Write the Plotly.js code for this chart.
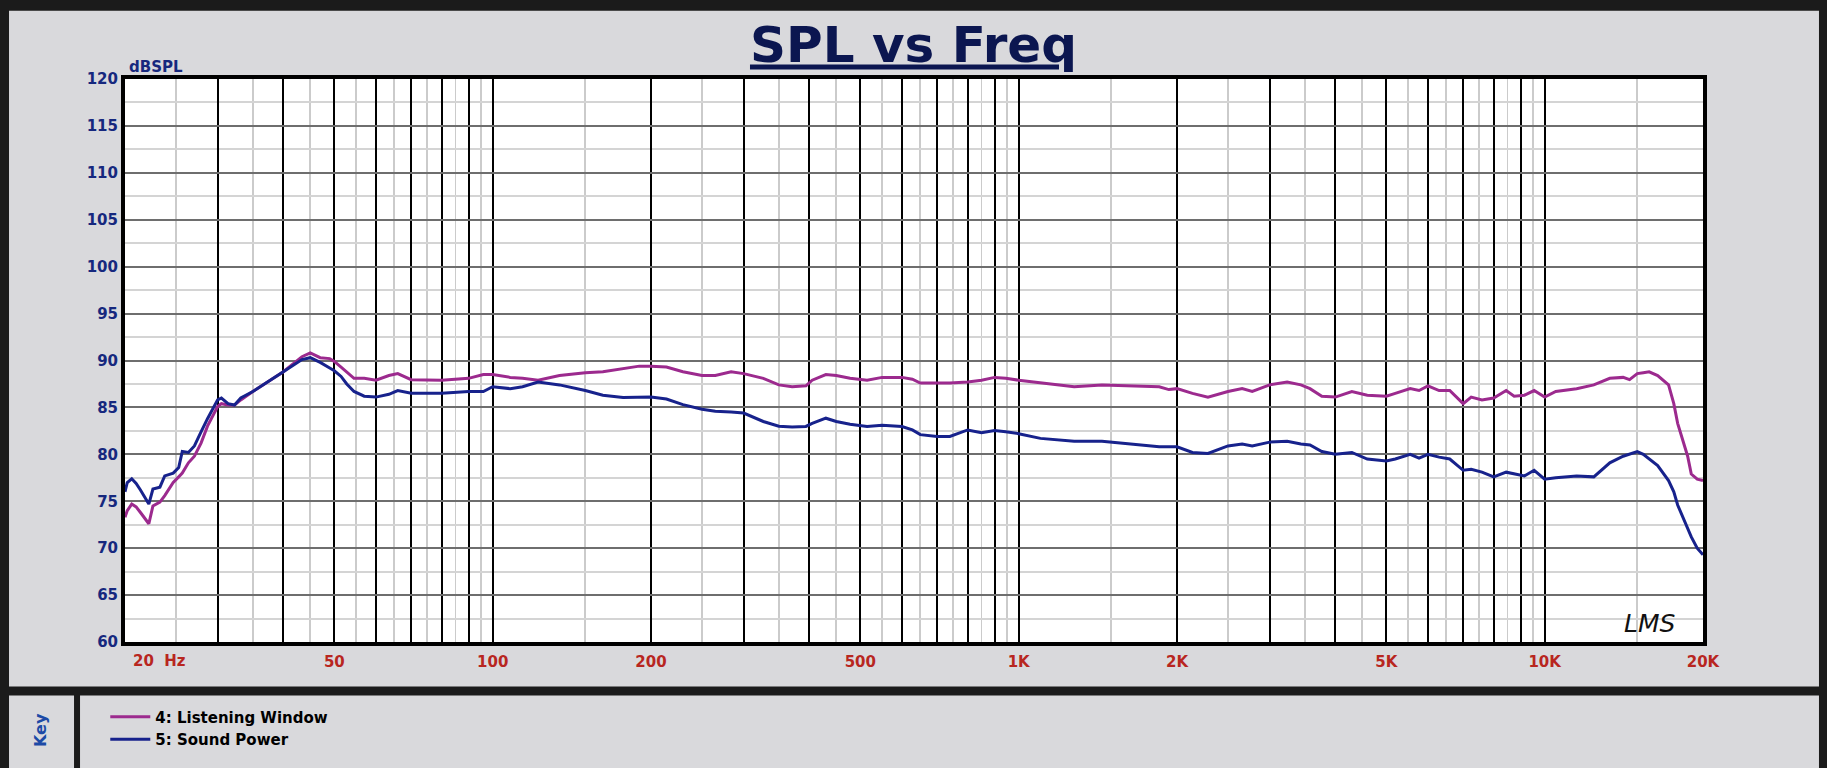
<!DOCTYPE html>
<html>
<head>
<meta charset="utf-8">
<script src="https://cdn.plot.ly/plotly-3.0.1.min.js"></script>
<style>
  html, body { margin: 0; padding: 0; background: #1b1b1b; }
  #myChart { width: 1827px; height: 768px; }
</style>
</head>
<body>
<div id="myChart"></div>
<script>
// frequencies (Hz)
var freq = [20, 20.2, 20.6, 21.0, 21.4, 22.2, 22.6, 23.3, 23.8, 24.7, 25.3, 25.7, 26.4, 27.1, 27.9, 28.7,
  30, 30.5, 31.4, 32.3, 33.2, 35, 40, 43.4, 45, 47, 49, 50, 51.5, 52.8, 54.5, 57, 60, 63.5, 66, 70,
  80, 90, 96, 100, 108, 114, 122, 134, 150, 162, 177, 190, 200, 214, 230, 250, 265, 284, 300, 327,
  350, 371, 394, 405, 430, 450, 478, 515, 550, 600, 628, 650, 700, 740, 800, 850, 900, 945, 1000,
  1100, 1275, 1440, 1670, 1850, 1930, 2000, 2140, 2290, 2500, 2660, 2780, 3000, 3240, 3440, 3580,
  3770, 4000, 4300, 4600, 5000, 5200, 5550, 5770, 6000, 6300, 6600, 7000, 7250, 7600, 8000, 8450,
  8750, 9150, 9550, 10000, 10500, 11500, 12400, 13300, 14100, 14500, 15000, 15400, 15800, 16400,
  17200, 17600, 17900, 18700, 19000, 19500, 20000];

// 4: Listening Window (dB SPL)
var listening = [73.3, 74.0, 74.7, 74.4, 73.8, 72.6, 74.5, 74.9, 75.6, 77.0, 77.6, 78.0, 79.1, 79.8, 81.2, 83.0,
  85.1, 85.4, 85.25, 85.25, 85.8, 86.7, 88.8, 90.4, 90.8, 90.3, 90.2, 89.9, 89.3, 88.8, 88.1, 88.1, 87.9, 88.4, 88.6, 87.96,
  87.9, 88.1, 88.5, 88.5, 88.2, 88.1, 87.9, 88.4, 88.7, 88.8, 89.1, 89.4, 89.4, 89.3, 88.8, 88.4, 88.4, 88.8, 88.6, 88.1,
  87.4, 87.2, 87.3, 87.9, 88.5, 88.4, 88.1, 87.9, 88.2, 88.2, 88.0, 87.6, 87.6, 87.6, 87.7, 87.9, 88.2, 88.1, 87.9,
  87.6, 87.2, 87.4, 87.3, 87.2, 86.9, 87.0, 86.5, 86.1, 86.7, 87.0, 86.7, 87.4, 87.7, 87.4, 87.0,
  86.2, 86.1, 86.7, 86.3, 86.2, 86.5, 87.0, 86.8, 87.3, 86.8, 86.8, 85.4, 86.1, 85.8, 86.0, 86.8,
  86.2, 86.3, 86.8, 86.1, 86.7, 87.0, 87.4, 88.1, 88.2, 87.96, 88.6, 88.7, 88.8, 88.4,
  87.4, 85.4, 83.3, 79.8, 77.9, 77.35, 77.2];

// 5: Sound Power (dB SPL)
var soundPower = [76.0, 77.0, 77.4, 76.9, 76.2, 74.7, 76.3, 76.5, 77.7, 78.0, 78.6, 80.3, 80.2, 80.9, 82.4, 83.8,
  85.8, 86.0, 85.4, 85.25, 86.0, 86.7, 88.8, 90.1, 90.3, 89.8, 89.2, 88.9, 88.3, 87.5, 86.7, 86.2, 86.1, 86.4, 86.8, 86.5,
  86.5, 86.7, 86.7, 87.2, 87.0, 87.2, 87.7, 87.4, 86.8, 86.3, 86.06, 86.1, 86.1, 85.9, 85.3, 84.8, 84.6, 84.5, 84.4, 83.5,
  83.0, 82.9, 82.97, 83.3, 83.85, 83.5, 83.2, 82.97, 83.1, 82.97, 82.6, 82.1, 81.9, 81.9, 82.6, 82.3, 82.55, 82.4, 82.2,
  81.7, 81.4, 81.4, 81.0, 80.8, 80.8, 80.8, 80.2, 80.1, 80.9, 81.1, 80.9, 81.3, 81.4, 81.1, 81.0,
  80.3, 80.0, 80.2, 79.5, 79.3, 79.5, 80.0, 79.6, 80.0, 79.7, 79.5, 78.3, 78.4, 78.1, 77.6, 78.1,
  77.9, 77.7, 78.3, 77.35, 77.5, 77.7, 77.6, 79.1, 79.8, 80.0, 80.3, 80.0, 79.5, 78.8,
  77.2, 76.0, 74.6, 72.0, 71.2, 70.0, 69.3];

// grid / tick positions on the frequency axis
var majorTicks = [20, 30, 40, 50, 60, 70, 80, 90, 100, 200, 300, 400, 500, 600, 700, 800, 900,
  1000, 2000, 3000, 4000, 5000, 6000, 7000, 8000, 9000, 10000, 20000];
var majorLabels = ['', '', '', '50', '', '', '', '', '100', '200', '', '', '500', '', '', '', '',
  '1K', '2K', '', '', '5K', '', '', '', '', '10K', '20K'];
var minorTicks = [25, 35, 45, 55, 65, 75, 85, 95, 150, 250, 350, 450, 550, 650, 750, 850, 950,
  1500, 2500, 3500, 4500, 5500, 6500, 7500, 8500, 9500, 15000];

var FONT = 'DejaVu Sans, Verdana, sans-serif';

var trace1 = {
  x: freq,
  y: listening,
  type: 'scatter',
  mode: 'lines',
  name: '4: Listening Window',
  line: {color: '#9c2a8e', width: 3}
};

var trace2 = {
  x: freq,
  y: soundPower,
  type: 'scatter',
  mode: 'lines',
  name: '5: Sound Power',
  line: {color: '#17228c', width: 3}
};

var panel = '#d9d9dc';

var layout = {
  width: 1827,
  height: 768,
  margin: {l: 125, r: 124, t: 79, b: 120},
  paper_bgcolor: '#1b1b1b',
  plot_bgcolor: '#ffffff',
  showlegend: true,
  title: {
    text: 'SPL vs Freq',
    x: 0.5,
    xanchor: 'center',
    y: 1 - 44 / 768,
    yanchor: 'middle',
    font: {family: FONT, size: 50, weight: 'bold', color: '#0b1650', lineposition: 'under'}
  },
  xaxis: {
    type: 'log',
    range: [Math.log10(20), Math.log10(20000)],
    tickmode: 'array',
    tickvals: majorTicks,
    ticktext: majorLabels,
    ticks: '',
    ticklabelstandoff: 3,
    showgrid: true,
    gridcolor: '#000000',
    gridwidth: 2,
    minor: {tickmode: 'array', tickvals: minorTicks, showgrid: true, gridcolor: '#cbcbcb', gridwidth: 1.6, ticks: ''},
    showline: true,
    linecolor: '#000000',
    linewidth: 4,
    mirror: true,
    zeroline: false,
    tickfont: {family: FONT, size: 15, weight: 'bold', color: '#b8261f'}
  },
  yaxis: {
    range: [60, 120],
    dtick: 5,
    tick0: 60,
    ticks: '',
    showgrid: true,
    gridcolor: '#6e6e6e',
    gridwidth: 2,
    minor: {dtick: 2.5, tick0: 60, showgrid: true, gridcolor: '#d4d4d4', gridwidth: 2, ticks: ''},
    showline: true,
    linecolor: '#000000',
    linewidth: 4,
    mirror: true,
    zeroline: false,
    tickfont: {family: FONT, size: 15, weight: 'bold', color: '#16287e'}
  },
  legend: {
    x: -0.0125,
    xanchor: 'left',
    y: -0.104,
    yanchor: 'top',
    bgcolor: 'rgba(0,0,0,0)',
    itemwidth: 40,
    font: {family: FONT, size: 15, weight: 'bold', color: '#000000'}
  },
  shapes: [
    // main grey panel
    {type: 'rect', xref: 'paper', yref: 'paper', x0: -0.0735, x1: 1.0735, y0: -0.0791, y1: 1.1213,
      fillcolor: panel, line: {width: 0}, layer: 'below'},
    // plot area
    {type: 'rect', xref: 'paper', yref: 'paper', x0: 0, x1: 1, y0: 0, y1: 1,
      fillcolor: '#ffffff', line: {width: 0}, layer: 'below'},
    // key box
    {type: 'rect', xref: 'paper', yref: 'paper', x0: -0.0735, x1: -0.0323, y0: -0.23, y1: -0.0949,
      fillcolor: panel, line: {width: 0}, layer: 'below'},
    // legend panel
    {type: 'rect', xref: 'paper', yref: 'paper', x0: -0.0285, x1: 1.0735, y0: -0.23, y1: -0.0949,
      fillcolor: panel, line: {width: 0}, layer: 'below'}
  ],
  annotations: [
    {text: 'dBSPL', xref: 'paper', yref: 'paper', x: 0, y: 1, xanchor: 'left', yanchor: 'bottom',
      xshift: 2, yshift: 1, showarrow: false,
      font: {family: FONT, size: 15, weight: 'bold', color: '#16287e'}},
    {text: '20&nbsp;&nbsp;Hz', xref: 'x', yref: 'paper', x: Math.log10(20), y: 0,
      xanchor: 'left', yanchor: 'top', xshift: 6, yshift: -8, showarrow: false,
      font: {family: FONT, size: 15, weight: 'bold', color: '#b8261f'}},
    {text: 'LMS', xref: 'paper', yref: 'paper', x: 0.966, y: 0.033, xanchor: 'center', yanchor: 'middle',
      showarrow: false, font: {family: FONT, size: 25, style: 'italic', color: '#111111'}},
    {text: 'Key', xref: 'paper', yref: 'paper', x: -0.0539, y: -0.1564, xanchor: 'center', yanchor: 'middle',
      textangle: -90, showarrow: false,
      font: {family: FONT, size: 16, weight: 'bold', color: '#1c4aa6'}}
  ]
};

Plotly.newPlot('myChart', [trace1, trace2], layout, {staticPlot: true});
</script>
</body>
</html>
